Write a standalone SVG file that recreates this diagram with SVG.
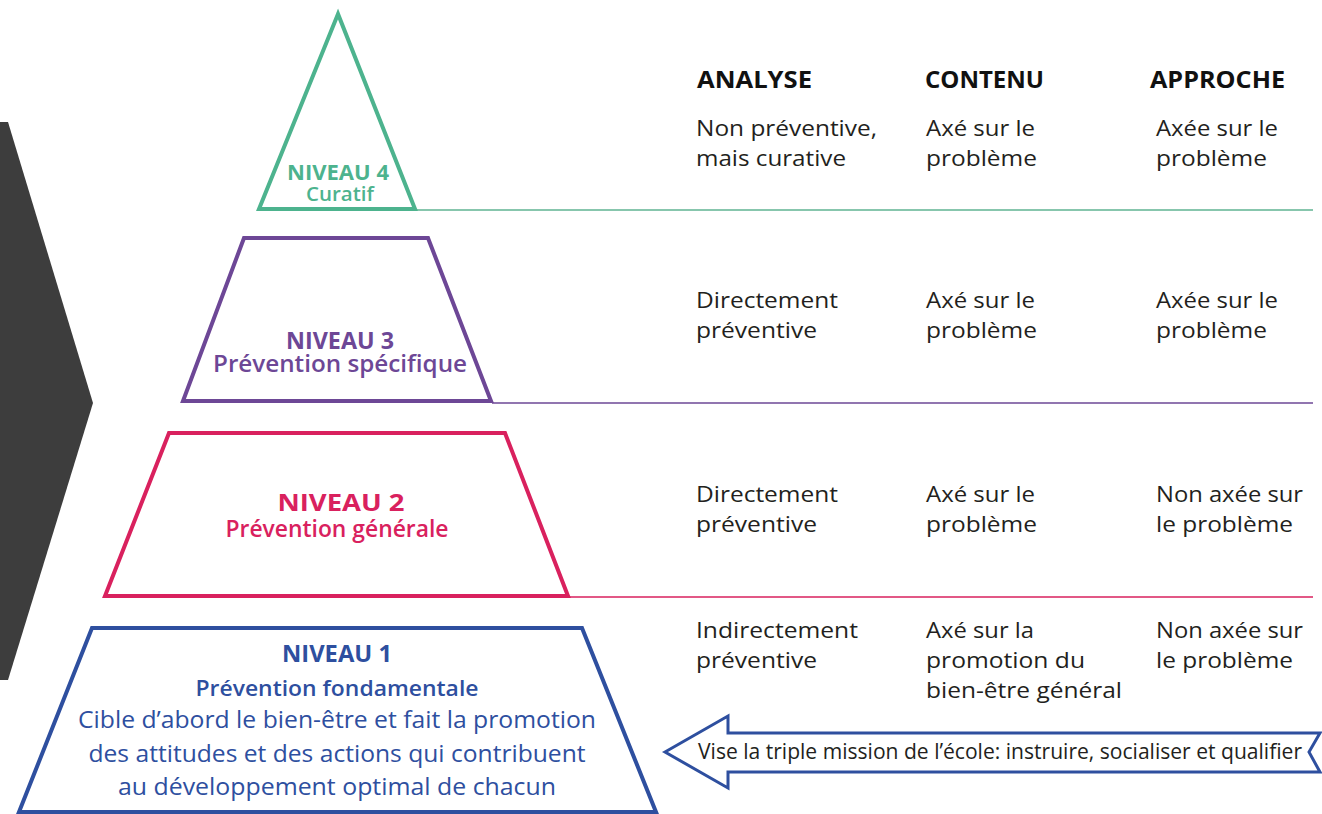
<svg xmlns="http://www.w3.org/2000/svg" width="1322" height="814" viewBox="0 0 1322 814">
<style>
.t{font-family:"Open Sans","Noto Sans",sans-serif;fill:#231f20;font-size:22px}
.h{font-family:"Open Sans","Noto Sans",sans-serif;fill:#111;font-size:24px;font-weight:700}
.lvl{font-family:"Open Sans","Noto Sans",sans-serif;font-weight:700;text-anchor:middle}
.sub{font-family:"Open Sans","Noto Sans",sans-serif;font-weight:600;text-anchor:middle}
.desc{font-family:"Open Sans","Noto Sans",sans-serif;font-weight:400;text-anchor:middle;fill:#2e4f9f;font-size:23px}
.shape{fill:#fff;stroke-width:4;stroke-linejoin:miter}
.sep{stroke-width:1.6;fill:none}
</style>
<rect width="1322" height="814" fill="#fff"/>
<g id="chevron"><polygon points="0,122 8,122 93,403 8,680 0,680" fill="#3d3d3d"/></g>
<g id="connectors">
<line class="sep" x1="415" y1="210" x2="1313" y2="210" stroke="#5fb392"/>
<line class="sep" x1="492" y1="403" x2="1313" y2="403" stroke="#6d4796"/>
<line class="sep" x1="569" y1="597" x2="1313" y2="597" stroke="#d9215e"/>
</g>
<g id="niveau4">
<polygon class="shape" points="338,14 259,209 415,209" stroke="#4db38e"/>
<text class="lvl" x="338" y="180" font-size="22" fill="#4db38e" textLength="102" lengthAdjust="spacingAndGlyphs">NIVEAU 4</text>
<text class="sub" x="340" y="201" font-size="20" fill="#4db38e" textLength="68" lengthAdjust="spacingAndGlyphs">Curatif</text>
</g>
<g id="niveau3">
<polygon class="shape" points="244,238 428,238 491,401 183,401" stroke="#6d4796"/>
<text class="lvl" x="340" y="349" font-size="23" fill="#6d4796" textLength="108" lengthAdjust="spacingAndGlyphs">NIVEAU 3</text>
<text class="sub" x="340" y="372" font-size="23" fill="#6d4796" textLength="254" lengthAdjust="spacingAndGlyphs">Prévention spécifique</text>
</g>
<g id="niveau2">
<polygon class="shape" points="169,433 505,433 568,596 105,596" stroke="#d9215e"/>
<text class="lvl" x="341" y="511" font-size="23" fill="#d9215e" textLength="127" lengthAdjust="spacingAndGlyphs">NIVEAU 2</text>
<text class="sub" x="337" y="537" font-size="23" fill="#d9215e" textLength="223" lengthAdjust="spacingAndGlyphs">Prévention générale</text>
</g>
<g id="niveau1">
<polygon class="shape" points="92,628 582,628 656,812 19,812" stroke="#2e4f9f"/>
<text class="lvl" x="337" y="662" font-size="23" fill="#2e4f9f" textLength="110" lengthAdjust="spacingAndGlyphs">NIVEAU 1</text>
<text class="sub" x="337" y="696" font-size="22" fill="#2e4f9f" textLength="283" lengthAdjust="spacingAndGlyphs">Prévention fondamentale</text>
<text class="desc" x="337" y="728" textLength="518" lengthAdjust="spacingAndGlyphs">Cible d’abord le bien-être et fait la promotion</text>
<text class="desc" x="337" y="762" textLength="497" lengthAdjust="spacingAndGlyphs">des attitudes et des actions qui contribuent</text>
<text class="desc" x="337" y="795" textLength="438" lengthAdjust="spacingAndGlyphs">au développement optimal de chacun</text>
</g>
<g id="mission">
<polygon points="665,752 728,716 728,733 1320,733 1309,752 1320,772 728,772 728,788" fill="#fff" stroke="#2e4f9f" stroke-width="3" stroke-linejoin="miter"/>
<text class="t" x="698" y="759" font-size="20" textLength="604" lengthAdjust="spacingAndGlyphs">Vise la triple mission de l’école: instruire, socialiser et qualifier</text>
</g>
<g id="headers">
<text class="h" x="697" y="88" textLength="115" lengthAdjust="spacingAndGlyphs">ANALYSE</text>
<text class="h" x="925" y="88" textLength="119" lengthAdjust="spacingAndGlyphs">CONTENU</text>
<text class="h" x="1150" y="88" textLength="135" lengthAdjust="spacingAndGlyphs">APPROCHE</text>
</g>
<g id="row4">
<text class="t" x="696" y="136" textLength="181" lengthAdjust="spacingAndGlyphs">Non préventive,</text>
<text class="t" x="696" y="166" textLength="150" lengthAdjust="spacingAndGlyphs">mais curative</text>
<text class="t" x="926" y="136" textLength="109" lengthAdjust="spacingAndGlyphs">Axé sur le</text>
<text class="t" x="926" y="166" textLength="111" lengthAdjust="spacingAndGlyphs">problème</text>
<text class="t" x="1156" y="136" textLength="122" lengthAdjust="spacingAndGlyphs">Axée sur le</text>
<text class="t" x="1156" y="166" textLength="111" lengthAdjust="spacingAndGlyphs">problème</text>
</g>
<g id="row3">
<text class="t" x="696" y="308" textLength="142" lengthAdjust="spacingAndGlyphs">Directement</text>
<text class="t" x="696" y="338" textLength="121" lengthAdjust="spacingAndGlyphs">préventive</text>
<text class="t" x="926" y="308" textLength="109" lengthAdjust="spacingAndGlyphs">Axé sur le</text>
<text class="t" x="926" y="338" textLength="111" lengthAdjust="spacingAndGlyphs">problème</text>
<text class="t" x="1156" y="308" textLength="122" lengthAdjust="spacingAndGlyphs">Axée sur le</text>
<text class="t" x="1156" y="338" textLength="111" lengthAdjust="spacingAndGlyphs">problème</text>
</g>
<g id="row2">
<text class="t" x="696" y="502" textLength="142" lengthAdjust="spacingAndGlyphs">Directement</text>
<text class="t" x="696" y="532" textLength="121" lengthAdjust="spacingAndGlyphs">préventive</text>
<text class="t" x="926" y="502" textLength="109" lengthAdjust="spacingAndGlyphs">Axé sur le</text>
<text class="t" x="926" y="532" textLength="111" lengthAdjust="spacingAndGlyphs">problème</text>
<text class="t" x="1156" y="502" textLength="147" lengthAdjust="spacingAndGlyphs">Non axée sur</text>
<text class="t" x="1156" y="532" textLength="137" lengthAdjust="spacingAndGlyphs">le problème</text>
</g>
<g id="row1">
<text class="t" x="696" y="638" textLength="162" lengthAdjust="spacingAndGlyphs">Indirectement</text>
<text class="t" x="696" y="668" textLength="121" lengthAdjust="spacingAndGlyphs">préventive</text>
<text class="t" x="926" y="638" textLength="108" lengthAdjust="spacingAndGlyphs">Axé sur la</text>
<text class="t" x="926" y="668" textLength="159" lengthAdjust="spacingAndGlyphs">promotion du</text>
<text class="t" x="926" y="698" textLength="196" lengthAdjust="spacingAndGlyphs">bien-être général</text>
<text class="t" x="1156" y="638" textLength="147" lengthAdjust="spacingAndGlyphs">Non axée sur</text>
<text class="t" x="1156" y="668" textLength="137" lengthAdjust="spacingAndGlyphs">le problème</text>
</g>
</svg>
